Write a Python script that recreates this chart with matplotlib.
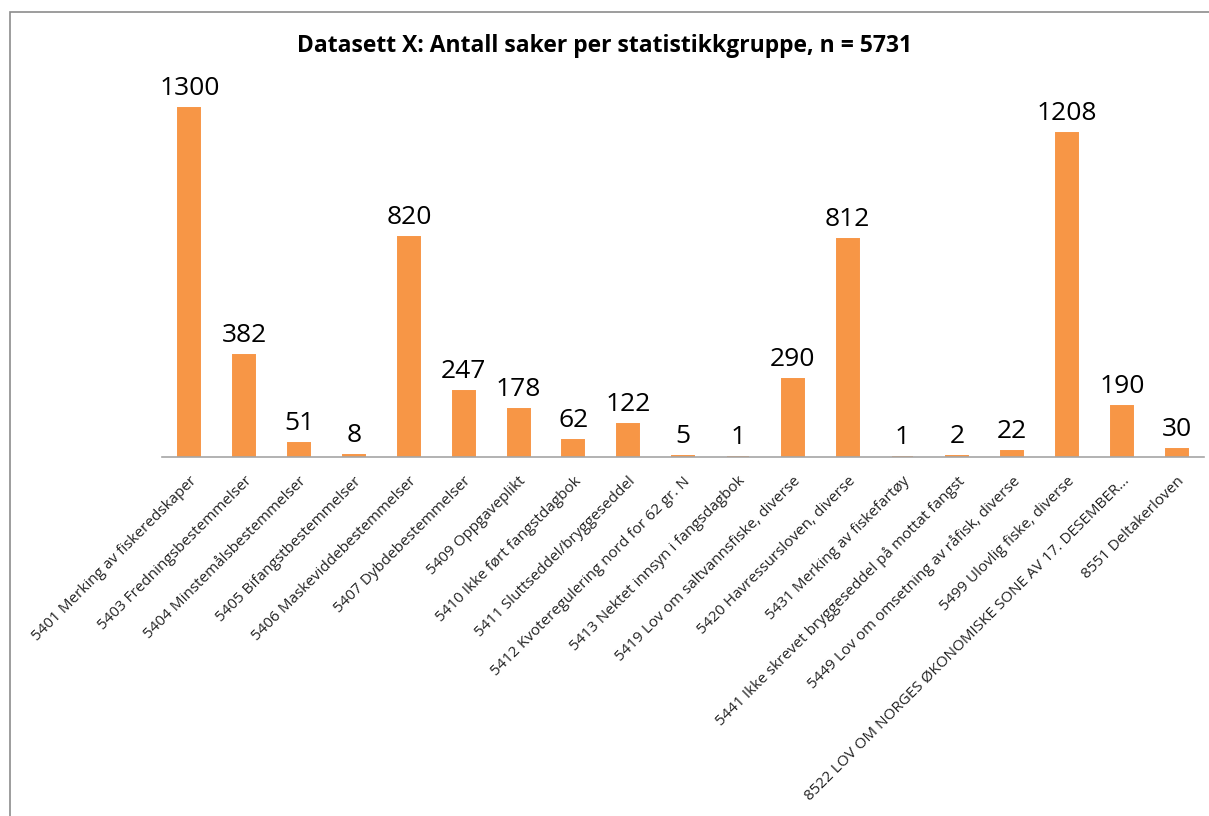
import matplotlib.pyplot as plt
from matplotlib.patches import Rectangle

categories = [
    "5401 Merking av fiskeredskaper",
    "5403 Fredningsbestemmelser",
    "5404 Minstemålsbestemmelser",
    "5405 Bifangstbestemmelser",
    "5406 Maskeviddebestemmelser",
    "5407 Dybdebestemmelser",
    "5409 Oppgaveplikt",
    "5410 Ikke ført fangstdagbok",
    "5411 Sluttseddel/bryggeseddel",
    "5412 Kvoteregulering nord for 62 gr. N",
    "5413 Nektet innsyn i fangsdagbok",
    "5419 Lov om saltvannsfiske, diverse",
    "5420 Havressursloven, diverse",
    "5431 Merking av fiskefartøy",
    "5441 Ikke skrevet bryggeseddel på mottat fangst",
    "5449 Lov om omsetning av råfisk, diverse",
    "5499 Ulovlig fiske, diverse",
    "8522 LOV OM NORGES ØKONOMISKE SONE AV 17. DESEMBER...",
    "8551 Deltakerloven",
]
counts = [1300, 382, 51, 8, 820, 247, 178, 62, 122, 5, 1, 290, 812, 1, 2, 22, 1208, 190, 30]

fig = plt.figure(figsize=(12.09, 8.16), dpi=100)
ax = fig.add_axes([0.134, 0.44, 0.862, 0.46])

x = range(len(categories))
ax.bar(x, counts, width=0.4, color='#F79646', edgecolor='#F79646', linewidth=1.4)

for i, v in enumerate(counts):
    ax.annotate(str(v), (i, v), textcoords="offset points", xytext=(0, 5),
                ha='center', va='bottom', fontsize=19, family='Open Sans')

ax.set_xlim(-0.5, len(categories) - 0.5)
ax.set_ylim(0, 1400)
ax.set_xticks(list(x))
ax.set_xticklabels(categories, rotation=45, ha='right', rotation_mode='anchor',
                   fontsize=11, family='Open Sans', color='#222222')
ax.tick_params(axis='x', length=0, pad=12)
ax.set_yticks([])
for s in ['top', 'right', 'left']:
    ax.spines[s].set_visible(False)
ax.spines['bottom'].set_color('#A6A6A6')
ax.spines['bottom'].set_linewidth(1.2)

fig.text(0.5, 0.944, "Datasett X: Antall saker per statistikkgruppe, n = 5731",
         ha='center', va='center', fontsize=16.5, fontweight='bold', family='Open Sans')

# chart area frame
fig.patches.append(Rectangle((10 / 1209, -0.01), 1.0, 1 - 12 / 816 + 0.01,
                             transform=fig.transFigure, fill=False,
                             edgecolor='#8C8C8C', linewidth=1.2))

plt.savefig('out.png')
